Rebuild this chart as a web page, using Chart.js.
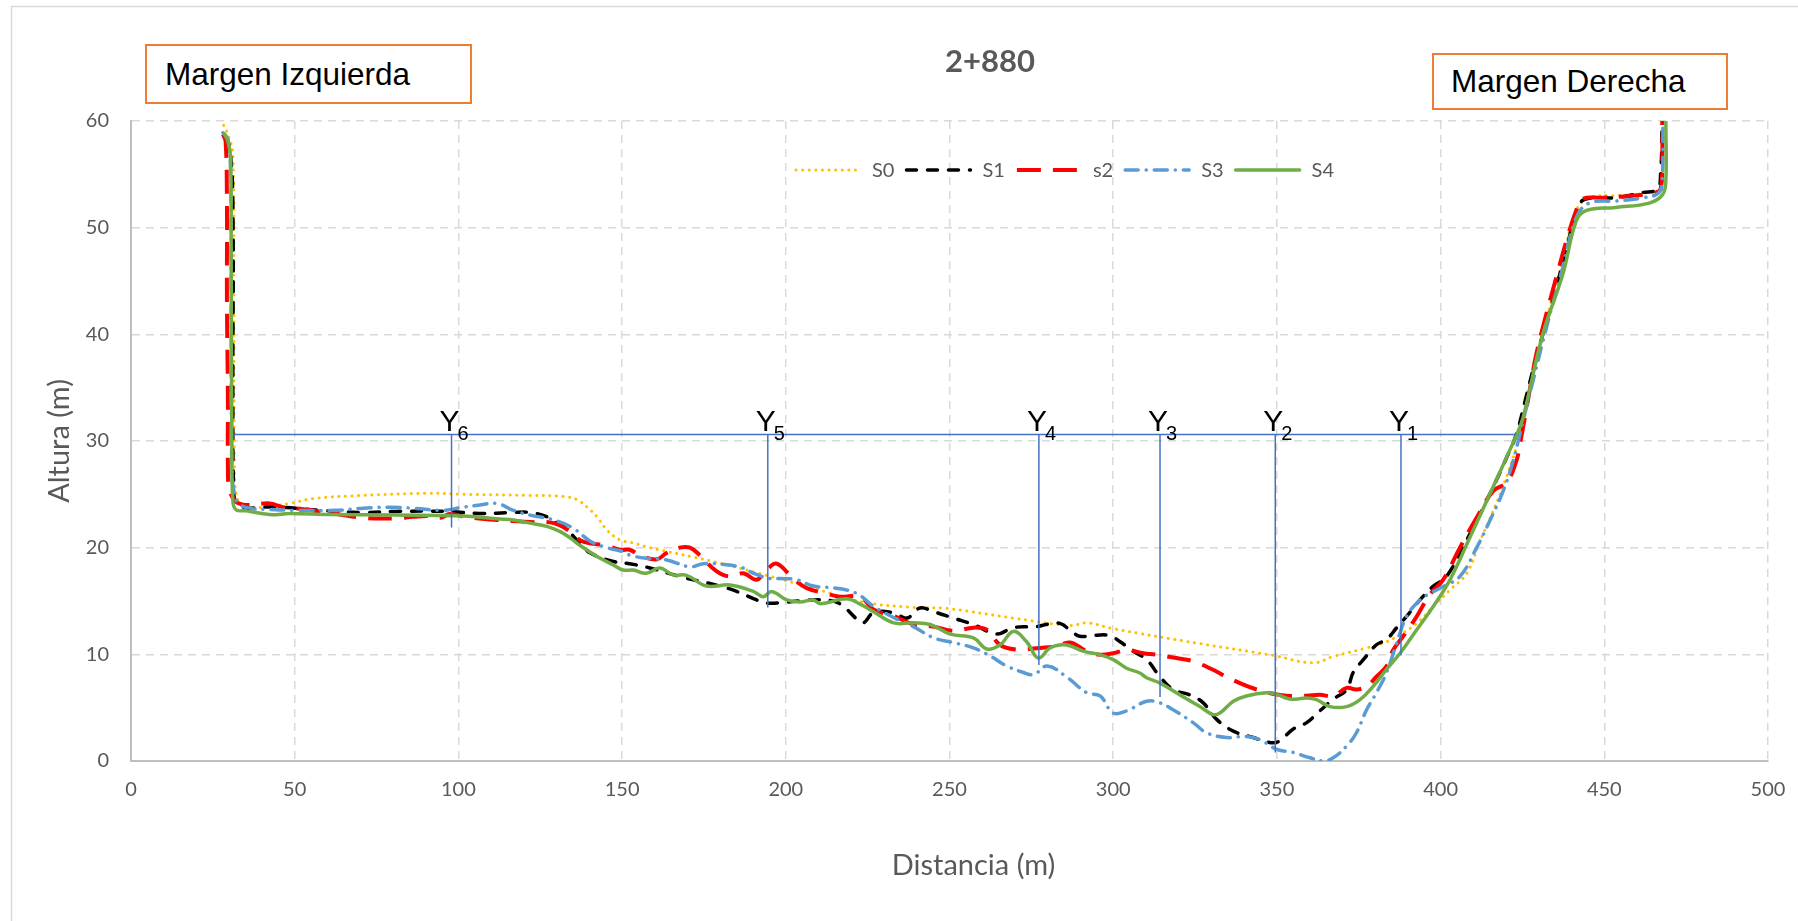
<!DOCTYPE html>
<html>
<head>
<meta charset="utf-8">
<title>2+880</title>
<script src="https://cdn.jsdelivr.net/npm/chart.js@4.4.1/dist/chart.umd.min.js"></script>
<style>
    body { margin: 0; background: #fff; }
    #wrap { position: relative; width: 1798px; height: 921px; }
    .margen {
        position: absolute; box-sizing: border-box; border: 2.5px solid #ed7d31;
        background: #fff; font: 31.5px 'Liberation Sans', Arial, sans-serif; color: #000;
        display: flex; align-items: center;
    }
</style>
</head>
<body>
<div id="wrap">
    <canvas id="chart" width="1798" height="921"></canvas>
    <div class="margen" style="left:145px; top:44px; width:327px; height:60px; padding-left:18px;">Margen Izquierda</div>
    <div class="margen" style="left:1432px; top:53px; width:296px; height:57px; padding-left:17px;">Margen Derecha</div>
</div>
<script>
    const chartTitle = '2+880'
    const xTitle = 'Distancia (m)'
    const yTitle = 'Altura (m)'
    const seriesNames = ['S0', 'S1', 's2', 'S3', 'S4']

    // S0
    const s0x = [28.3, 29.6, 31.1, 31.4, 31.6, 32.1, 33.7, 35.7, 40.3, 48.5, 55.6, 70.9, 91.3, 101.5, 121.9, 132.1, 136.2, 139.3, 142.3, 145.4, 149.5, 152.6, 158.5, 177.8, 194.2, 208.3, 223.6, 238.9, 249.1, 269.5, 287, 292, 300, 326.5, 348.8, 361, 367.2, 377.4, 382.5, 387.6, 392.7, 397.8, 402.9, 408, 412, 416, 420.1, 423.1, 426.2, 429.2, 433.3, 437.3, 441.4, 445.4, 453.5, 463.7, 467.2, 467.7]
    const s0y = [59.6, 58.75, 56.9, 43.2, 27.6, 25.05, 24.0, 23.75, 23.8, 24.15, 24.6, 24.9, 25.1, 25.0, 24.9, 24.8, 24.5, 23.8, 22.9, 21.65, 20.7, 20.5, 20.0, 18.7, 17.4, 16.2, 14.9, 14.4, 14.3, 13.4, 12.7, 12.95, 12.4, 11.0, 9.9, 9.2, 9.8, 10.6, 11.05, 11.85, 12.9, 14.5, 16.05, 17.6, 20.6, 23.4, 26.6, 29.4, 33.4, 37.5, 42.5, 46.9, 51.6, 52.8, 53.0, 53.3, 53.75, 59.6]
    // S1
    const s1x = [28.6, 30.1, 31.1, 31.1, 31.3, 31.9, 34.2, 40.3, 45.4, 57.7, 70.9, 81.1, 96.4, 106.6, 116.8, 121.9, 127, 130.1, 132.1, 137.2, 140.3, 147.4, 152.3, 158.5, 167.6, 179.9, 185, 191.1, 194.1, 200.3, 208.4, 214.5, 217.6, 221.7, 223.7, 226.8, 232.9, 237, 241, 245.1, 251.2, 257.3, 264.4, 269.4, 276.6, 279.6, 283.7, 287.3, 289.8, 294.9, 299, 302, 306.1, 310.2, 314.3, 318.3, 323.4, 327.5, 331.6, 336.7, 342.8, 345.8, 348.9, 350.9, 355, 359.1, 363.1, 367.2, 371.3, 373.3, 376.4, 380.4, 383.5, 386.6, 389.6, 393.7, 397.8, 401.8, 408.9, 415, 420.1, 423.1, 426.1, 429.2, 433.3, 437.3, 442.4, 445.4, 453.5, 461.7, 466.2, 467.2, 467.7]
    const s1y = [58.6, 57.5, 52.5, 33.8, 26, 24.3, 23.75, 23.8, 23.8, 23.5, 23.3, 23.4, 23.4, 23.2, 23.3, 23.3, 22.9, 22.3, 22.0, 20.4, 19.5, 18.7, 18.5, 18.1, 17.3, 16.4, 15.9, 15.1, 14.8, 14.9, 15.1, 15.0, 14.5, 13.3, 12.95, 13.9, 13.9, 13.4, 14.35, 14.0, 13.4, 12.8, 11.9, 12.5, 12.6, 12.8, 12.9, 12.15, 11.7, 11.8, 11.75, 11.2, 10.3, 9.5, 7.9, 6.7, 6.2, 5.45, 3.9, 2.8, 2.2, 1.9, 1.7, 1.9, 3.0, 3.6, 4.7, 5.8, 6.7, 8.3, 9.5, 10.9, 11.4, 12.5, 13.55, 15.1, 16.4, 17.3, 21.25, 25, 28.4, 30.6, 34.1, 37.8, 42.2, 46.6, 52.2, 52.75, 52.8, 53.3, 53.6, 55, 60]
    // s2
    const s2x = [28.1, 28.9, 29.3, 29.3, 29.6, 29.6, 30.1, 32.1, 35.2, 42.3, 46.4, 52.6, 62.8, 70.9, 81.1, 86.2, 91.3, 94.4, 97.4, 102, 111.7, 121.9, 129.1, 134.2, 137.2, 140.3, 144.4, 149.5, 152.3, 155.4, 160.5, 163.6, 167.6, 170.7, 173.7, 178.8, 182.9, 187, 191.1, 194.1, 197.2, 202.3, 206.4, 212.5, 216.6, 222.7, 226.8, 232.9, 239, 245.1, 251.2, 257.3, 261.4, 265.4, 270.5, 277.6, 282.7, 286.8, 291.9, 296, 300, 304.1, 309.2, 313.2, 319.3, 324.4, 330.5, 334.6, 338.7, 343.8, 350.9, 357, 363.1, 367.2, 371.3, 374.3, 377.4, 380.4, 383.5, 385.5, 388.6, 392.7, 396.7, 400.8, 405.9, 411, 416, 420.1, 423.1, 424.6, 427.7, 429.2, 432.3, 435.3, 438.4, 441.4, 443.4, 449.5, 458.6, 465.7, 467.2, 467.7, 467.7]
    const s2y = [58.75, 58.1, 52.5, 43.2, 33.8, 27.6, 25.4, 24.3, 24.0, 24.15, 23.8, 23.6, 23.15, 22.8, 22.75, 22.9, 22.97, 22.8, 23.15, 22.9, 22.6, 22.4, 22.3, 21.5, 20.7, 20.4, 20.25, 19.8, 19.8, 19.3, 18.9, 19.5, 20.0, 20.0, 19.3, 17.8, 17.3, 17.6, 17.0, 17.9, 18.5, 17.1, 16.2, 15.7, 15.4, 15.4, 14.2, 13.6, 12.8, 12.6, 12.2, 12.5, 12.3, 10.9, 10.45, 10.6, 10.75, 11.1, 10.3, 9.97, 10.1, 10.4, 10.1, 9.97, 9.65, 9.35, 8.55, 7.9, 7.3, 6.7, 6.2, 6.1, 6.2, 6.1, 6.85, 6.7, 7.0, 7.9, 8.9, 10.4, 11.7, 13.55, 15.6, 17.0, 20, 22.8, 25.3, 26.1, 28.1, 30.3, 35.6, 38.1, 41.9, 45.3, 48.75, 51.6, 52.7, 52.8, 53, 53.3, 53.6, 56.25, 60]
    // S3
    const s3x = [28.1, 29.6, 30.4, 30.6, 30.8, 31.6, 33.2, 37.2, 40.3, 50.5, 62.8, 70.9, 79.1, 86.2, 95.4, 101.5, 106.6, 111.7, 116.8, 121.9, 129.1, 135.2, 140.3, 145.4, 150.5, 152.3, 157.4, 163.6, 170.7, 174.8, 181.9, 186.9, 190.1, 195.2, 198.2, 203.3, 208.4, 215.5, 221.7, 226.8, 233.9, 239, 245.1, 251.2, 257.3, 262.4, 267.5, 272.6, 275.7, 279.8, 285.7, 291.9, 296, 300, 304.1, 310.2, 314.3, 318.3, 324.4, 328.5, 334.6, 340.7, 344.8, 350, 355, 360.1, 364.2, 367.2, 371.3, 374.3, 377.4, 380.4, 383.5, 386.6, 389.6, 393.7, 396.7, 400.8, 405.9, 411, 415, 419.1, 422.1, 425.2, 428.2, 432.3, 437.3, 441.4, 445.4, 453.5, 461.7, 466.7, 467.7, 467.9]
    const s3y = [58.9, 58.3, 55.6, 43.2, 27.6, 25.05, 24.05, 23.65, 23.6, 23.5, 23.5, 23.7, 23.8, 23.7, 23.5, 23.8, 24.0, 24.15, 23.5, 23.05, 22.6, 21.8, 20.6, 20.0, 19.6, 19.3, 19.0, 18.85, 18.2, 18.5, 18.4, 18.1, 17.6, 17.1, 17.1, 17.0, 16.4, 16.2, 15.7, 14.5, 13.3, 12.6, 11.55, 11.1, 10.6, 9.85, 8.9, 8.3, 8.1, 8.9, 7.9, 6.4, 6.1, 4.5, 4.7, 5.6, 5.45, 4.8, 3.6, 2.65, 2.2, 2.3, 2.0, 1.1, 0.8, 0.3, 0.0, 0.3, 1.4, 2.65, 4.8, 6.4, 8.3, 11.05, 13.55, 15.1, 15.7, 16.35, 17.3, 20, 22.5, 25.3, 28.1, 31.9, 35.6, 40.6, 46.25, 50.9, 52.3, 52.5, 52.8, 53.3, 54.7, 60]
    // S4
    const s4x = [28.5, 29.6, 30.4, 30.6, 30.8, 31.1, 32.1, 35.2, 42.3, 48.5, 60.7, 81.1, 101.5, 111.7, 116.8, 121.9, 127, 131.1, 134.2, 137.2, 142.2, 147.2, 150.3, 153.4, 157.4, 161.5, 165.6, 169.7, 175.8, 183, 190.1, 193.1, 195.7, 200.3, 204.3, 208.4, 210.5, 218.6, 222.7, 226.8, 232.9, 239, 244.1, 250.2, 257.3, 261.4, 265.5, 269.5, 273.5, 277.1, 280.7, 284.7, 286.8, 290.8, 295.9, 300, 304.1, 308.1, 310.2, 314.3, 320.4, 326.5, 330.5, 332.6, 336.7, 340.7, 346.8, 349.9, 354, 359.1, 362.1, 366.2, 371.3, 375.4, 379.4, 383.5, 387.6, 392.7, 397.8, 402.9, 409, 415, 423.1, 425.2, 431.2, 437.3, 441.4, 444.4, 453.5, 463.7, 467.8, 468.8, 468.8]
    const s4y = [58.8, 58.1, 56.6, 46.3, 30.7, 24.4, 23.55, 23.45, 23.1, 23.2, 23.1, 23.06, 22.97, 22.7, 22.6, 22.3, 22.0, 21.5, 20.9, 20.2, 19.2, 18.4, 17.9, 17.9, 17.6, 18.1, 17.45, 17.4, 16.4, 16.5, 15.9, 15.4, 15.9, 15.1, 14.9, 15.1, 14.75, 15.2, 14.7, 14.0, 12.95, 12.95, 12.8, 11.9, 11.55, 10.5, 10.9, 12.15, 11.2, 9.65, 10.6, 10.9, 10.8, 10.3, 9.97, 9.5, 8.7, 8.25, 7.8, 7.3, 6.2, 5.1, 4.35, 4.5, 5.6, 6.1, 6.4, 6.25, 5.8, 5.9, 5.75, 5.1, 5.1, 5.75, 7.0, 8.6, 10.1, 12.3, 14.5, 17.0, 21, 25, 30.5, 32.2, 40, 45.6, 50.6, 51.6, 51.9, 52.3, 53.1, 54.4, 60]

    // water level and the Y1..Y6 verticals
    const waterLevel = 30.6
    const waterFrom = 31.5
    const waterTo = 423
    const yLabelNums = ['6', '5', '4', '3', '2', '1']
    const yLineX = [97.9, 194.5, 277.3, 314.3, 349.5, 387.9]
    const yLineBottom = [21.9, 14.4, 9.0, 6.0, 0.8, 9.9]

    const pts = (xs, ys) => xs.map((x, i) => ({ x, y: ys[i] }))

    const seriesStyle = [
        { color: '#ffc000', width: 3, dash: [0.1, 6.5], cap: 'round' },
        { color: '#000000', width: 3.5, dash: [10, 11], cap: 'round' },
        { color: '#ff0000', width: 4, dash: [24, 12], cap: 'butt' },
        { color: '#5b9bd5', width: 3.5, dash: [13, 8, 0.1, 8], cap: 'round' },
        { color: '#70ad47', width: 3.5, dash: [], cap: 'round' },
    ]
    const seriesData = [pts(s0x, s0y), pts(s1x, s1y), pts(s2x, s2y), pts(s3x, s3y), pts(s4x, s4y)]

    const datasets = seriesNames.map((name, i) => ({
        label: name,
        data: seriesData[i],
        borderColor: seriesStyle[i].color,
        borderWidth: seriesStyle[i].width,
        borderDash: seriesStyle[i].dash,
        borderCapStyle: seriesStyle[i].cap,
        borderJoinStyle: 'round',
        tension: 0.4,
        pointRadius: 0,
        fill: false,
        order: 10 - i,
    }))

    const blue = '#4472c4'
    datasets.push({
        label: 'nivel',
        data: [{ x: waterFrom, y: waterLevel }, { x: waterTo, y: waterLevel }],
        borderColor: blue, borderWidth: 1.5, pointRadius: 0, tension: 0, order: 0,
    })
    yLineX.forEach((xv, i) => {
        datasets.push({
            label: 'Y' + yLabelNums[i],
            data: [{ x: xv, y: waterLevel }, { x: xv, y: yLineBottom[i] }],
            borderColor: blue, borderWidth: 1.5, pointRadius: 0, tension: 0, order: 0,
        })
    })

    const grey = '#595959'
    const overlay = {
        id: 'overlay',
        beforeDraw(chart) {
            const ctx = chart.ctx
            ctx.save()
            ctx.fillStyle = '#fff'
            ctx.fillRect(0, 0, chart.width, chart.height)
            ctx.strokeStyle = '#d9d9d9'
            ctx.lineWidth = 1.5
            ctx.strokeRect(11.5, 6.5, chart.width + 40, chart.height + 40)
            ctx.restore()
        },
        afterDraw(chart) {
            const { ctx, chartArea, scales } = chart
            ctx.save()
            // title
            ctx.fillStyle = grey
            ctx.textAlign = 'center'
            ctx.textBaseline = 'middle'
            ctx.font = 'bold 31px Lato'
            ctx.fillText(chartTitle, 990, 62)
            // x axis title
            ctx.font = '29px Lato'
            ctx.fillText(xTitle, (chartArea.left + chartArea.right) / 2 + 24, 866)

            // legend
            let lx = 796
            const ly = 170
            ctx.font = '20px Lato'
            ctx.textAlign = 'left'
            for (let i = 0; i < seriesNames.length; i++) {
                const ds = chart.data.datasets[i]
                ctx.save()
                ctx.strokeStyle = ds.borderColor
                ctx.lineWidth = ds.borderWidth
                ctx.lineCap = ds.borderCapStyle
                ctx.setLineDash(ds.borderDash)
                ctx.beginPath()
                ctx.moveTo(lx, ly)
                ctx.lineTo(lx + 64, ly)
                ctx.stroke()
                ctx.restore()
                ctx.fillStyle = grey
                ctx.fillText(ds.label, lx + 76, ly + 1)
                lx += 76 + ctx.measureText(ds.label).width + 12
            }

            // Y labels with subscripts
            ctx.fillStyle = '#000'
            ctx.textBaseline = 'alphabetic'
            const py = scales.y.getPixelForValue(waterLevel)
            yLineX.forEach((xv, i) => {
                const px = scales.x.getPixelForValue(xv)
                ctx.font = '30px "Liberation Sans"'
                ctx.textAlign = 'center'
                ctx.fillText('Y', px - 2, py - 4)
                ctx.font = '20px "Liberation Sans"'
                ctx.textAlign = 'left'
                ctx.fillText(yLabelNums[i], px + 6, py + 5)
            })
            ctx.restore()
        },
    }

    const chart = new Chart('chart', {
        type: 'line',
        data: { datasets },
        plugins: [overlay],
        options: {
            responsive: false,
            animation: false,
            events: [],
            layout: { padding: { top: 121, right: 30, left: 0, bottom: 0 } },
            plugins: {
                legend: { display: false },
                title: { display: false },
                tooltip: { enabled: false },
            },
            scales: {
                x: {
                    type: 'linear',
                    min: 0,
                    max: 500,
                    ticks: { stepSize: 50, color: grey, font: { family: 'Lato', size: 20 }, padding: 17, maxRotation: 0 },
                    grid: { color: '#d9d9d9', lineWidth: 1.5, drawTicks: false },
                    border: { display: true, color: '#bfbfbf', width: 2, dash: [8, 6] },
                    afterFit: (s) => {
                        s.height = 921 - 761
                        s.paddingLeft = 0
                        s.paddingRight = 0
                    },
                },
                y: {
                    min: 0,
                    max: 60,
                    ticks: { stepSize: 10, color: grey, font: { family: 'Lato', size: 20 }, padding: 22 },
                    grid: { color: '#d9d9d9', lineWidth: 1.5, drawTicks: false },
                    border: { display: true, color: '#bfbfbf', width: 2, dash: [8, 6] },
                    title: { display: true, text: yTitle, color: grey, font: { family: 'Lato', size: 29 }, padding: { top: 42, bottom: 0 } },
                    afterFit: (s) => {
                        s.width = 131
                        s.paddingTop = 0
                        s.paddingBottom = 0
                    },
                },
            },
        },
    })
</script>
</body>
</html>
